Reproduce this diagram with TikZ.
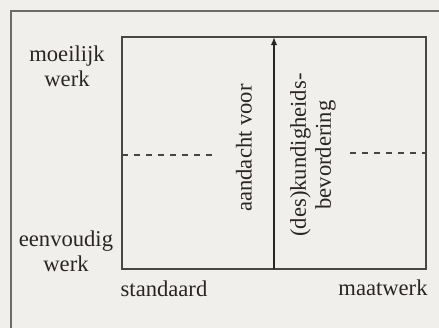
\documentclass[tikz,border=0pt]{standalone}
\usepackage{tikz}
\usepackage{xcolor}
\usepackage{fontspec}
\setmainfont{Liberation Serif}
\usetikzlibrary{arrows.meta}
\definecolor{paper}{RGB}{241,239,235}
\definecolor{ink}{RGB}{40,37,36}
\definecolor{rulegray}{RGB}{70,70,70}

\begin{document}
\begin{tikzpicture}[x=0.5pt,y=0.5pt,font=\fontsize{11.3}{12.5}\selectfont,text=ink]
    % Paper
    \fill[paper] (0,0) rectangle (439,-328);
    \useasboundingbox (0,0) rectangle (439,-328);

    % Page frame
    \coordinate (F1) at (11,-328);
    \coordinate (F2) at (11,-11);
    \coordinate (F3) at (439,-11);
    \draw[rulegray!80,line width=0.7pt] (F1) -- (F2) -- (F3);

    % Quadrant box
    \coordinate (SW) at (122,-269);
    \coordinate (NE) at (426,-37);
    \draw[rulegray,line width=0.75pt] (SW) rectangle (NE);

    % Dashed middle lines
    \coordinate (L1) at (122,-155);
    \coordinate (L2) at (216,-155);
    \coordinate (R1) at (350,-153);
    \coordinate (R2) at (426,-153);
    \draw[rulegray,line width=0.7pt,dashed] (L1) -- (L2);
    \draw[rulegray,line width=0.7pt,dashed] (R1) -- (R2);

    % Arrow
    \coordinate (A1) at (274,-269);
    \coordinate (A2) at (274,-37);
    \draw[ink,line width=1.4pt,-{Latex[length=4pt,width=3.2pt]}] (A1) -- (A2);

    % Axis labels
    \node (moeilijk) at (67,-66) [align=center] {moeilijk\\werk};
    \node (eenvoudig) at (66,-251) [align=center] {eenvoudig\\werk};
    \node (standaard) at (164,-289) {standaard};
    \node (maatwerk) at (383,-288) {maatwerk};

    % Arrow labels
    \node (aandacht) at (244,-148) [rotate=90] {aandacht voor};
    \node (kundig) at (313,-155) [rotate=90,align=center] {(des)kundigheids-\\bevordering};
\end{tikzpicture}
\end{document}
